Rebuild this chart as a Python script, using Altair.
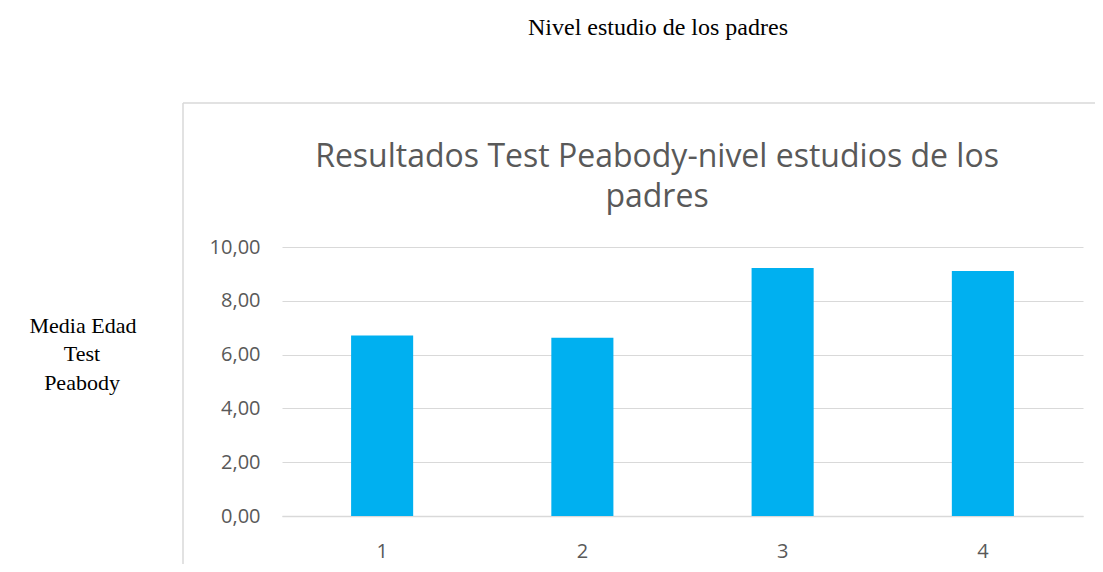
import altair as alt
import pandas as pd

categories = ["1", "2", "3", "4"]
values = [6.71, 6.63, 9.22, 9.11]
y_ticks = [0, 2, 4, 6, 8, 10]

df = pd.DataFrame({"nivel": categories, "media": values})
one = pd.DataFrame({"k": [0]})

FONT = "Open Sans"
SERIF = "Liberation Serif"
GRAY = "#595959"
LINE = "#d9d9d9"

bars = alt.Chart(df).mark_bar(color="#00B0F0").encode(
    x=alt.X(
        "nivel:N",
        sort=categories,
        scale=alt.Scale(paddingInner=0.69, paddingOuter=0.345),
        axis=alt.Axis(title=None, labelAngle=0, ticks=False, domainColor=LINE,
                      domainWidth=1.5, labelPadding=25, labelFontSize=20,
                      labelColor=GRAY, labelFont=FONT, grid=False),
    ),
    y=alt.Y(
        "media:Q",
        scale=alt.Scale(domain=[0, 10], nice=False),
        axis=alt.Axis(title=None, values=y_ticks, domain=False, ticks=False,
                      labelPadding=22,
                      labelExpr="replace(format(datum.value, '.2f'), '.', ',')",
                      gridColor=LINE, gridWidth=1.2, labelFontSize=20,
                      labelColor=GRAY, labelFont=FONT),
    ),
)

vline = alt.Chart(one).mark_rule(color=LINE, strokeWidth=1.5).encode(
    x=alt.value(-99), y=alt.value(-144), y2=alt.value(340))
hline = alt.Chart(one).mark_rule(color=LINE, strokeWidth=1.5).encode(
    x=alt.value(-99), x2=alt.value(840), y=alt.value(-144))

def txt(s, x, y, font, size, color):
    return alt.Chart(one).mark_text(font=font, fontSize=size, color=color,
                                    align="center", baseline="middle").encode(
        x=alt.value(x), y=alt.value(y), text=alt.value(s))

title1 = txt("Resultados Test Peabody-nivel estudios de los", 375, -90, FONT, 32, GRAY)
title2 = txt("padres", 375, -50, FONT, 32, GRAY)
top = txt("Nivel estudio de los padres", 376, -219, SERIF, 24, "black")
left1 = txt("Media Edad", -199, 79, SERIF, 22, "black")
left2 = txt("Test", -200, 107, SERIF, 22, "black")
left3 = txt("Peabody", -200, 136, SERIF, 22, "black")

chart = alt.layer(
    bars, vline, hline, title1, title2, top, left1, left2, left3
).properties(
    width=801, height=269,
    padding={"left": 274, "top": 239, "right": 12, "bottom": 48},
    autosize="none",
).configure_view(stroke=None)

chart.save("out.html", embed_options={"renderer": "svg", "actions": False})
